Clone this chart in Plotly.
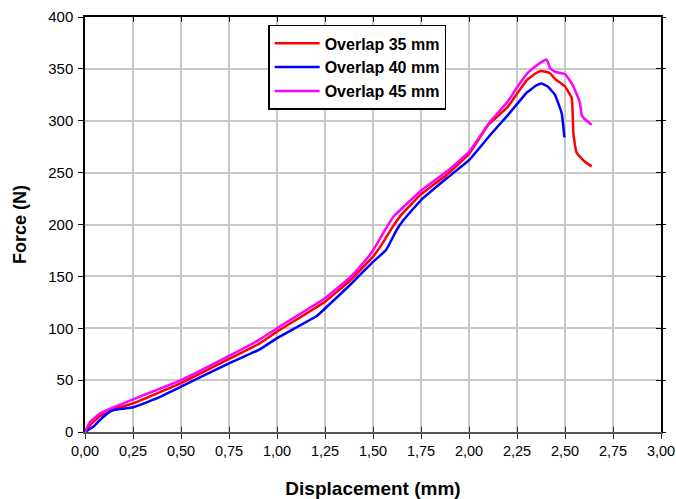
import plotly.graph_objects as go

# ---- data ----
x_ticks = [0, 0.25, 0.5, 0.75, 1.0, 1.25, 1.5, 1.75, 2.0, 2.25, 2.5, 2.75, 3.0]
x_tick_labels = ["0,00", "0,25", "0,50", "0,75", "1,00", "1,25", "1,50",
                 "1,75", "2,00", "2,25", "2,50", "2,75", "3,00"]
y_ticks = [0, 50, 100, 150, 200, 250, 300, 350, 400]

series_names = ["Overlap 35 mm", "Overlap 40 mm", "Overlap 45 mm"]

red_x = [0, 0.026, 0.078, 0.148, 0.25, 0.373, 0.5, 0.75, 0.911, 1.0, 1.25, 1.38,
         1.5, 1.55, 1.6, 1.65, 1.75, 1.884, 2.0, 2.1, 2.2, 2.25, 2.3, 2.35, 2.378,
         2.42, 2.45, 2.5, 2.535, 2.54, 2.543, 2.546, 2.561, 2.6, 2.639]
red_y = [0, 6.4, 15.4, 21.8, 27.6, 37, 47, 70.4, 85.5, 96.7, 125.6, 146,
         169, 182, 197, 210, 229, 248, 268, 296, 313, 326, 339, 346, 348,
         346, 340, 333, 322, 307, 290, 284, 269, 261, 256]

blue_x = [0, 0.043, 0.078, 0.13, 0.146, 0.198, 0.25, 0.373, 0.5, 0.75, 0.911, 1.0,
          1.207, 1.25, 1.38, 1.5, 1.568, 1.623, 1.658, 1.75, 1.884, 2.0, 2.109,
          2.2, 2.25, 2.3, 2.35, 2.378, 2.41, 2.448, 2.483, 2.497]
blue_y = [0, 5, 11.6, 19.6, 21, 22.5, 23.8, 32.4, 43.7, 66.2, 79.7, 90.5,
          111.8, 119, 141.7, 164, 175.4, 194.7, 204, 223.6, 244.5, 262, 286,
          305, 316, 327, 334, 336, 333, 325, 307, 284]

mag_x = [0, 0.026, 0.078, 0.148, 0.25, 0.373, 0.5, 0.75, 0.911, 1.0, 1.25, 1.38,
         1.467, 1.5, 1.5625, 1.606, 1.75, 1.884, 2.0, 2.109, 2.2, 2.25, 2.3, 2.35,
         2.39, 2.401, 2.41, 2.422, 2.45, 2.5, 2.535, 2.56, 2.578, 2.587, 2.6, 2.639]
mag_y = [0, 9.6, 18, 23.8, 31.5, 40.5, 50, 73.3, 89.3, 100, 128.9, 149,
         167, 175, 194.7, 207.5, 232.6, 251, 270, 299, 318, 332, 345, 353,
         358, 359, 357, 350.5, 347, 345, 336, 326, 317, 305.5, 302, 296]

colors = ["#ff0000", "#0000ff", "#ff00ff"]

FONT = "Liberation Sans, Arial, sans-serif"

fig = go.Figure()
for name, xs, ys, c in zip(series_names, [red_x, blue_x, mag_x],
                           [red_y, blue_y, mag_y], colors):
    fig.add_trace(go.Scatter(x=xs, y=ys, mode="lines", name=name,
                             line=dict(color=c, width=2.5, shape="spline",
                                       smoothing=0.3)))

# helper (empty) traces so the extra tick axes are drawn
fig.add_trace(go.Scatter(x=[], y=[], xaxis="x2", yaxis="y2", showlegend=False,
                         hoverinfo="skip"))
fig.add_trace(go.Scatter(x=[], y=[], xaxis="x3", yaxis="y3", showlegend=False,
                         hoverinfo="skip"))

common_x = dict(range=[0, 3], tickvals=x_ticks, fixedrange=True, automargin=False)
common_y = dict(range=[0, 400], tickvals=y_ticks, fixedrange=True, automargin=False)

fig.update_layout(
    width=676, height=499,
    margin=dict(l=85, r=15, t=17, b=67),
    paper_bgcolor="white", plot_bgcolor="white",
    font=dict(family=FONT, size=15, color="black"),
    showlegend=True,
    legend=dict(x=0.318, y=0.981, xanchor="left", yanchor="top",
                bgcolor="white", bordercolor="black", borderwidth=1.5,
                font=dict(family=FONT, size=16, color="black", weight="bold"),
                tracegroupgap=0, itemwidth=45),
    xaxis=dict(**common_x, ticktext=x_tick_labels, ticks="outside", ticklen=5,
               tickcolor="#333", tickwidth=1.3, ticklabeloverflow="allow",
               showline=True, linecolor="#555", linewidth=2,
               showgrid=True, gridcolor="#c8c8c8", gridwidth=1.5, zeroline=False,
               tickfont=dict(size=14.5),
               title=dict(text="Displacement (mm)", standoff=25,
                          font=dict(size=19, weight="bold"))),
    yaxis=dict(**common_y, ticks="outside", ticklen=5, tickcolor="black",
               tickwidth=1.3, ticklabelstandoff=2,
               showline=True, linecolor="black", linewidth=1.5,
               showgrid=True, gridcolor="#c8c8c8", gridwidth=1.5, zeroline=False,
               tickfont=dict(size=15),
               title=dict(text="Force (N)", standoff=17,
                          font=dict(size=18, weight="bold"))),
    # bottom inner ticks (crossing) and top inner ticks
    xaxis2=dict(**common_x, overlaying="x", anchor="y2", side="bottom",
                ticks="inside", ticklen=5, tickcolor="#333", tickwidth=1.3,
                showticklabels=False, showgrid=False, zeroline=False,
                showline=False),
    yaxis2=dict(**common_y, overlaying="y", anchor="x2", side="right",
                ticks="inside", ticklen=5, tickcolor="black", tickwidth=1.3,
                showticklabels=False, showgrid=False, zeroline=False,
                showline=True, linecolor="black", linewidth=1.5),
    xaxis3=dict(**common_x, overlaying="x", anchor="y3", side="top",
                ticks="inside", ticklen=5, tickcolor="black", tickwidth=1.3,
                showticklabels=False, showgrid=False, zeroline=False,
                showline=True, linecolor="black", linewidth=1.5),
    yaxis3=dict(**common_y, overlaying="y", anchor="x3", side="right",
                ticks="outside", ticklen=4, tickcolor="black", tickwidth=1.3,
                showticklabels=False, showgrid=False, zeroline=False,
                showline=False),
)

# remove the default 8px page margin so the figure fills the window exactly
fig.write_html("out.html",
               config={"displayModeBar": False},
               post_script="document.body.style.margin='0';"
                           "document.body.style.overflow='hidden';")
